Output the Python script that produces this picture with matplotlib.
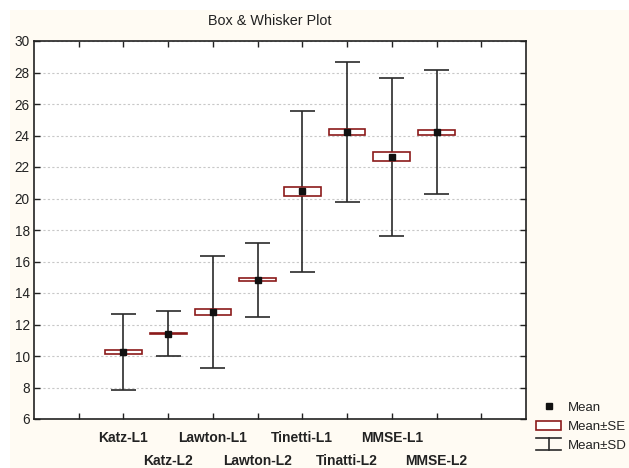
import matplotlib
matplotlib.use("Agg")
from matplotlib import pyplot as plt
from matplotlib.patches import Rectangle
from matplotlib.lines import Line2D
from matplotlib.legend_handler import HandlerBase

# Data
categories = ['Katz-L1', 'Katz-L2', 'Lawton-L1', 'Lawton-L2',
              'Tinetti-L1', 'Tinatti-L2', 'MMSE-L1', 'MMSE-L2']
means = [10.25, 11.42, 12.80, 14.84, 20.45, 24.22, 22.65, 24.20]
se = [0.15, 0.05, 0.21, 0.10, 0.28, 0.17, 0.30, 0.15]
sd = [2.40, 1.42, 3.55, 2.35, 5.10, 4.44, 5.01, 3.93]
positions = [2, 3, 4, 5, 6, 7, 8, 9]

plt.rcParams['font.family'] = ['Liberation Sans', 'DejaVu Sans']

fig = plt.figure(figsize=(6.29, 4.68), dpi=100)
fig.patch.set_facecolor('white')
# cream panel behind the plot
fig.patches.append(Rectangle((10 / 629, 0), 1, 1 - 10 / 468, transform=fig.transFigure,
                             facecolor='#fffbf3', edgecolor='none', zorder=-10))

ax = fig.add_axes([34 / 629, 49 / 468, 492 / 629, 378 / 468])
ax.set_facecolor('white')

box_color = '#8b1a1a'
line_color = '#2a2a2a'
box_w = 0.82
cap_w = 0.56

for x, m, e, s in zip(positions, means, se, sd):
    ax.vlines(x, m - s, m + s, color=line_color, lw=1.2, zorder=2)
    ax.hlines([m - s, m + s], x - cap_w / 2, x + cap_w / 2, color=line_color, lw=1.2, zorder=2)
    if e < 0.08:
        ax.add_patch(Rectangle((x - box_w / 2, m - e), box_w, 2 * e, facecolor=box_color,
                               edgecolor=box_color, lw=1.2, zorder=3))
    else:
        ax.add_patch(Rectangle((x - box_w / 2, m - e), box_w, 2 * e, facecolor='white',
                               edgecolor=box_color, lw=1.2, zorder=3))
ax.plot(positions, means, ls='none', marker='s', ms=4.5, color='#111111', zorder=4)

ax.set_xlim(0, 11)
ax.set_ylim(6, 30)
ax.set_yticks(range(6, 31, 2))
ax.set_xticks(range(1, 11))
ax.set_xticklabels([])
ax.tick_params(direction='in', length=4, width=1, top=True, right=True,
               labelsize=9.8, colors='#222222', pad=3)
ax.tick_params(axis='y', labelright=False)
ax.yaxis.grid(True, ls=(0, (2, 2)), color='#c8c8c8', lw=0.8)
ax.set_axisbelow(True)
for sp in ax.spines.values():
    sp.set_color('#222222')
    sp.set_linewidth(1.2)

# two-row category labels
for i, (x, name) in enumerate(zip(positions, categories)):
    y_off = -19 if i % 2 == 0 else -42
    ax.annotate(name, xy=(x, 0), xycoords=ax.get_xaxis_transform(),
                xytext=(0, y_off), textcoords='offset pixels',
                ha='center', va='center', fontsize=10, fontweight='bold', color='#222222')

fig.text(270 / 629, 1 - 21 / 468, 'Box & Whisker Plot', ha='center', va='center',
         fontsize=10.4, color='#222222')


class SDHandler(HandlerBase):
    def create_artists(self, legend, orig_handle, xd, yd, width, height, fontsize, trans):
        top = yd + height + 1
        bot = yd - 1
        mid = xd + width / 2
        return [Line2D([xd, xd + width], [top, top], color=line_color, lw=1.2, transform=trans),
                Line2D([xd, xd + width], [bot, bot], color=line_color, lw=1.2, transform=trans),
                Line2D([mid, mid], [bot, top], color=line_color, lw=1.2, transform=trans)]


mean_h = Line2D([], [], ls='none', marker='s', ms=4, color='#111111')
se_h = Rectangle((0, 0), 1, 1, facecolor='white', edgecolor=box_color, lw=1.2)
sd_h = object()
fig.legend([mean_h, se_h, sd_h], ['Mean', 'Mean±SE', 'Mean±SD'],
           handler_map={object: SDHandler()},
           loc='lower left', bbox_to_anchor=(527 / 629, 7 / 468), frameon=False,
           fontsize=9.5, handlelength=1.9, handletextpad=0.5, labelspacing=0.5,
           borderpad=0.2, labelcolor='#222222')

fig.savefig('out.png', dpi=100, facecolor=fig.get_facecolor())
